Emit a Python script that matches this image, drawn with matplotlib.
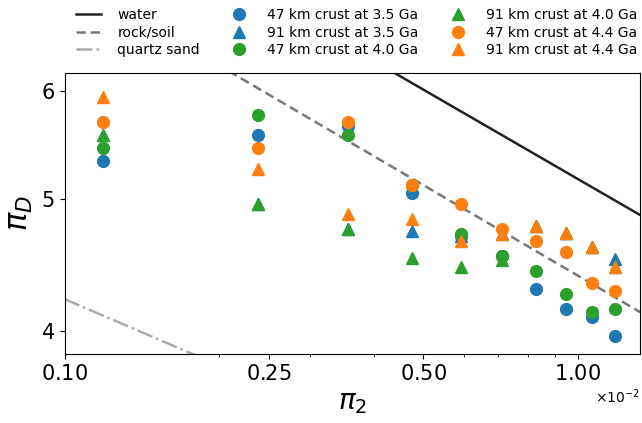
import matplotlib
matplotlib.use("Agg")
import matplotlib.pyplot as plt
from matplotlib.ticker import ScalarFormatter, NullFormatter, NullLocator, FixedLocator

# pi_2 values (x 1e-2)
pi2 = [0.119, 0.238, 0.357, 0.474, 0.592, 0.712, 0.828, 0.948, 1.066, 1.181]

# pi_D values per series
d47_35 = [5.33, 5.576, 5.654, 5.05, 4.70, 4.54, 4.30, 4.156, 4.098, 3.971]
d91_35 = [5.576, 4.957, 4.752, 4.74, 4.70, 4.715, 4.78, 4.72, 4.61, 4.52]
d47_40 = [5.45, 5.76, 5.576, 5.12, 4.715, 4.546, 4.43, 4.26, 4.133, 4.156]
d91_40 = [5.576, 4.957, 4.752, 4.526, 4.46, 4.51, 4.78, 4.72, 4.61, 4.46]
d47_44 = [5.695, 5.45, 5.695, 5.12, 4.96, 4.754, 4.66, 4.57, 4.34, 4.28]
d91_44 = [5.94, 5.26, 4.874, 4.833, 4.66, 4.715, 4.78, 4.72, 4.61, 4.46]

# reference lines (endpoints, x in 1e-2 units)
line_x = [0.1, 1.4]
water_y = [8.54, 4.807]
rock_y = [7.30, 4.080]
quartz_y = [4.224, 2.758]

series = [
    ("47 km crust at 3.5 Ga", d47_35, "o", "#1f77b4"),
    ("91 km crust at 3.5 Ga", d91_35, "^", "#1f77b4"),
    ("47 km crust at 4.0 Ga", d47_40, "o", "#2ca02c"),
    ("91 km crust at 4.0 Ga", d91_40, "^", "#2ca02c"),
    ("47 km crust at 4.4 Ga", d47_44, "o", "#ff7f0e"),
    ("91 km crust at 4.4 Ga", d91_44, "^", "#ff7f0e"),
]

fig = plt.figure(figsize=(6.42, 4.23), dpi=100)
ax = fig.add_axes([0.1006, 0.1631, 0.8964, 0.665])

lx = [v * 1e-2 for v in line_x]
ax.plot(lx, water_y, color="#222222", lw=1.8, label="water")
ax.plot(lx, rock_y, color="#777777", lw=1.8, ls=(0, (3.7, 2)), label="rock/soil")
ax.plot(lx, quartz_y, color="#aaaaaa", lw=1.8, ls="-.", label="quartz sand")

xs = [v * 1e-2 for v in pi2]
for lab, ys, m, c in series:
    ax.plot(xs, ys, ls="none", marker=m, ms=8.5, color=c, label=lab)

ax.set_xscale("log")
ax.set_yscale("log")
ax.set_xlim(0.1e-2, 1.321e-2)
ax.set_ylim(3.85, 6.19)

ax.xaxis.set_major_locator(FixedLocator([0.001, 0.0025, 0.005, 0.01]))
fmt = ScalarFormatter(useMathText=True)
fmt.set_powerlimits((-1, 1))
ax.xaxis.set_major_formatter(fmt)
ax.xaxis.set_minor_locator(FixedLocator([0.002, 0.003, 0.004, 0.006, 0.007, 0.008, 0.009]))
ax.xaxis.set_minor_formatter(NullFormatter())

ax.yaxis.set_major_locator(FixedLocator([4, 5, 6]))
ax.yaxis.set_major_formatter(ScalarFormatter())
ax.yaxis.set_minor_locator(NullLocator())

ax.tick_params(axis="both", which="major", labelsize=15)
ax.xaxis.get_offset_text().set_fontsize(10)

ax.set_xlabel(r"$\pi_2$", fontsize=20, labelpad=3)
ax.set_ylabel(r"$\pi_D$", fontsize=22, labelpad=5)

handles, labels = ax.get_legend_handles_labels()
fig.legend(handles, labels, ncol=3, loc="upper center", bbox_to_anchor=(0.556, 1.01),
           frameon=False, fontsize=10, handlelength=1.8, columnspacing=1.9,
           labelspacing=0.25, handletextpad=1.15)

fig.savefig("out.png", dpi=100)
